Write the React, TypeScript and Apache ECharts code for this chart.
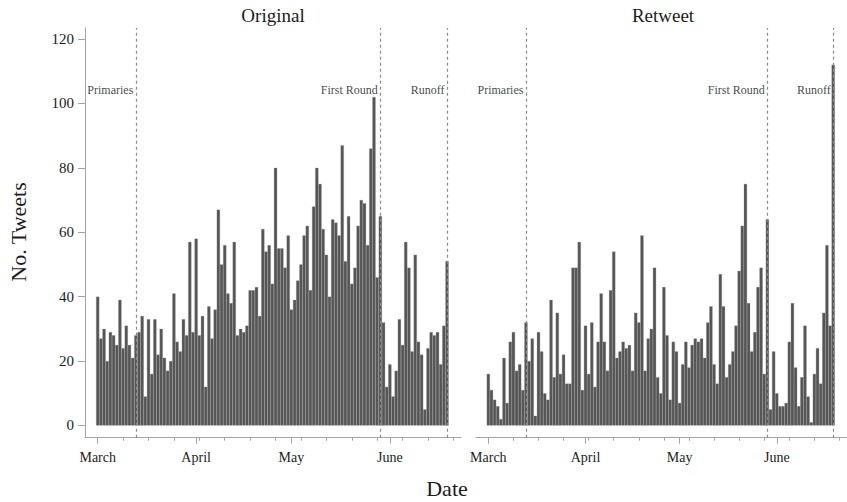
import React, { useEffect, useRef } from 'react';
import * as echarts from 'echarts';

// Daily tweet counts, one bar per day starting 27 Feb (day index 0).
const originalCounts = [
  40, 27, 30, 20, 29, 28, 25, 39, 24, 31,
  25, 21, 28, 29, 34, 9, 33, 16, 33, 22,
  30, 21, 17, 20, 41, 26, 23, 33, 28, 57,
  29, 58, 28, 34, 12, 37, 27, 36, 67, 50,
  56, 41, 38, 57, 28, 30, 29, 31, 42, 42,
  43, 34, 61, 54, 56, 44, 80, 55, 55, 49,
  59, 36, 39, 45, 50, 59, 62, 42, 68, 80,
  75, 61, 53, 40, 64, 63, 59, 87, 51, 65,
  44, 49, 62, 70, 69, 56, 86, 102, 46, 65,
  32, 12, 19, 9, 17, 33, 25, 57, 49, 23,
  53, 26, 22, 5, 24, 29, 28, 29, 19, 31, 51,
];

const retweetCounts = [
  16, 11, 8, 6, 2, 21, 7, 26, 29, 17,
  19, 11, 32, 20, 27, 3, 29, 23, 10, 8,
  39, 15, 35, 16, 22, 13, 13, 49, 49, 57,
  11, 31, 16, 32, 12, 26, 41, 26, 17, 42,
  54, 21, 23, 26, 24, 25, 17, 35, 32, 59,
  17, 27, 30, 49, 15, 10, 43, 28, 8, 26,
  23, 7, 19, 26, 18, 25, 27, 26, 27, 21,
  32, 37, 19, 13, 47, 37, 15, 19, 23, 31,
  48, 62, 75, 38, 23, 29, 43, 49, 16, 64,
  5, 23, 10, 6, 6, 7, 26, 38, 18, 6,
  15, 31, 9, 1, 16, 24, 13, 35, 56, 31, 112,
];

const panelTitles = ['Original', 'Retweet'];

// Election events (day index) and their labels.
const eventDays = [12, 89, 110];
const eventNames = ['Primaries', 'First Round', 'Runoff'];
const eventLabelLevel = 104.3;

// Axis ticks.
const monthTicks = [0, 31, 61, 92];
const monthLabels = ['March', 'April', 'May', 'June'];
const weekTicks = [0, 8, 16, 24, 32, 40, 48, 56, 64, 72, 80, 88, 96, 104, 112];
const countTicks = [0, 20, 40, 60, 80, 100, 120];

const FONT = "'Liberation Serif', 'DejaVu Serif', serif";
const AXIS_GREY = '#a3a3a3';
const TEXT = '#1c1c1c';

const X_MIN = -4;
const X_MAX = 114.4;
const Y_MIN = -3.79;
const Y_MAX = 123.42;

function buildOption(): echarts.EChartsOption {
  const grids = [
    { left: 85, top: 28, width: 376, height: 409.7 },
    { left: 475.8, top: 28, width: 376, height: 409.7 },
  ];

  const xAxis: any[] = [];
  const yAxis: any[] = [];
  const series: any[] = [];
  const seriesData = [originalCounts, retweetCounts];

  grids.forEach((_, g) => {
    // weekly minor ticks + axis line
    xAxis.push({
      type: 'value',
      gridIndex: g,
      position: 'bottom',
      min: X_MIN,
      max: X_MAX,
      axisLine: { show: true, onZero: false, lineStyle: { color: AXIS_GREY, width: 1 } },
      axisTick: { show: true, customValues: weekTicks, length: 3, lineStyle: { color: AXIS_GREY } },
      axisLabel: { show: false },
      splitLine: { show: false },
    });
    // month ticks with labels
    xAxis.push({
      type: 'value',
      gridIndex: g,
      position: 'bottom',
      min: X_MIN,
      max: X_MAX,
      axisLine: { show: false, onZero: false },
      axisTick: { show: true, customValues: monthTicks, length: 6, lineStyle: { color: AXIS_GREY } },
      axisLabel: {
        show: true,
        customValues: monthTicks,
        formatter: (v: number) => monthLabels[monthTicks.indexOf(v)] ?? '',
        margin: 13,
        fontFamily: FONT,
        fontSize: 14,
        color: TEXT,
      },
      splitLine: { show: false },
    });
    yAxis.push({
      type: 'value',
      gridIndex: g,
      position: 'left',
      min: Y_MIN,
      max: Y_MAX,
      show: g === 0,
      axisLine: { show: true, onZero: false, lineStyle: { color: AXIS_GREY, width: 1 } },
      axisTick: { show: true, customValues: countTicks, length: 7, lineStyle: { color: AXIS_GREY } },
      axisLabel: {
        show: true,
        customValues: countTicks,
        margin: 11,
        fontFamily: FONT,
        fontSize: 15,
        color: TEXT,
      },
      splitLine: { show: false },
    });

    series.push({
      type: 'bar',
      name: panelTitles[g],
      xAxisIndex: g * 2,
      yAxisIndex: g,
      barWidth: 3.18,
      data: seriesData[g].map((c, i) => [i, c]),
      itemStyle: { color: '#555555', borderColor: '#8e8e8e', borderWidth: 0.3 },
      silent: true,
      markLine: {
        silent: true,
        symbol: 'none',
        label: { show: false },
        lineStyle: { type: [3, 3], color: '#8a8a8a', width: 1.2 },
        data: eventDays.map((d) => ({ xAxis: d })),
      },
    });

    series.push({
      type: 'scatter',
      xAxisIndex: g * 2,
      yAxisIndex: g,
      symbol: 'circle',
      symbolSize: 1,
      itemStyle: { color: 'rgba(0,0,0,0)' },
      silent: true,
      data: eventDays.map((d, i) => ({ value: [d, eventLabelLevel], name: eventNames[i] })),
      label: {
        show: true,
        position: 'left',
        distance: 2,
        formatter: '{b}',
        fontFamily: FONT,
        fontSize: 12,
        color: '#111111',
      },
    });
  });

  const textStyle = (text: string, size: number) => ({
    text,
    font: `${size}px ${FONT}`,
    fill: TEXT,
    textAlign: 'center',
    textVerticalAlign: 'middle',
    align: 'center',
    verticalAlign: 'middle',
  });

  return {
    animation: false,
    backgroundColor: '#ffffff',
    grid: grids,
    xAxis,
    yAxis,
    series,
    graphic: [
      { type: 'text', x: 273, y: 15, style: textStyle(panelTitles[0], 19) },
      { type: 'text', x: 663, y: 15, style: textStyle(panelTitles[1], 19) },
      { type: 'text', x: 447, y: 488, style: textStyle('Date', 22) },
      { type: 'text', x: 18, y: 232, rotation: Math.PI / 2, style: textStyle('No. Tweets', 22) },
    ],
  } as any;
}

export default function App() {
  const ref = useRef<HTMLDivElement>(null);

  useEffect(() => {
    if (!ref.current) return;
    const chart = echarts.init(ref.current, undefined, { renderer: 'svg' });
    chart.setOption(buildOption());
    return () => chart.dispose();
  }, []);

  return (
    <div
      ref={ref}
      style={{ position: 'fixed', left: 0, top: 0, width: 847, height: 502, background: '#fff' }}
    />
  );
}
